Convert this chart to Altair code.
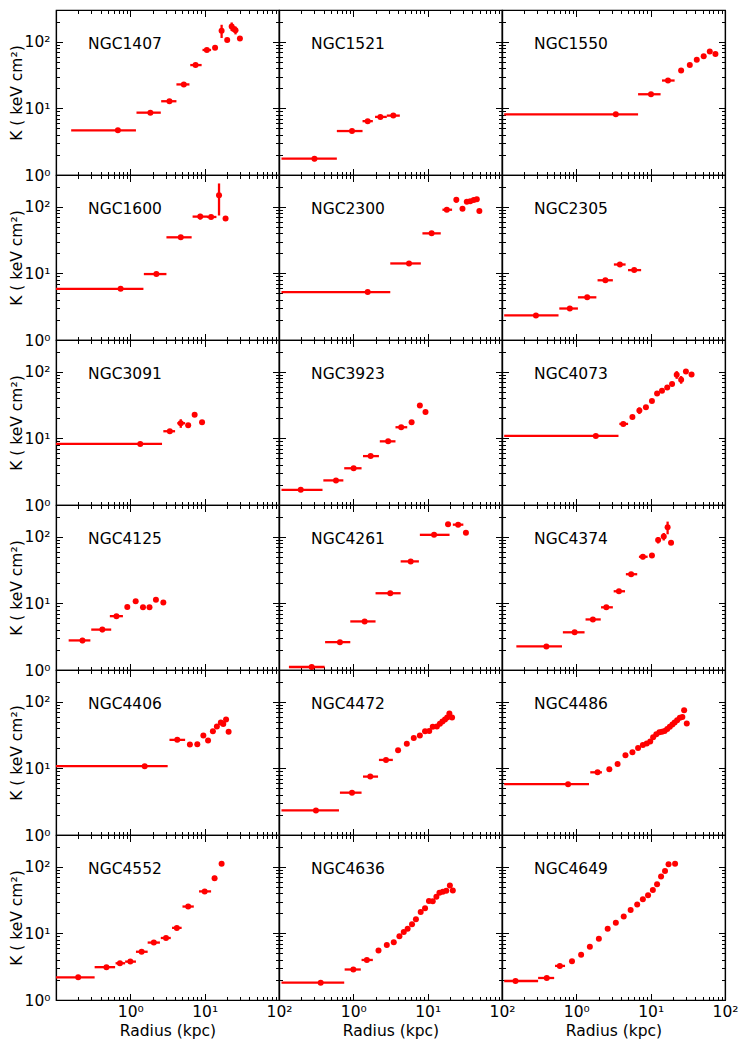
import altair as alt
import pandas as pd

FONT = "DejaVu Sans"
RED = "#ff0000"
PANEL_W = 223
PANEL_H = 165

NAMES = ["NGC1407", "NGC1521", "NGC1550",
         "NGC1600", "NGC2300", "NGC2305",
         "NGC3091", "NGC3923", "NGC4073",
         "NGC4125", "NGC4261", "NGC4374",
         "NGC4406", "NGC4472", "NGC4486",
         "NGC4552", "NGC4636", "NGC4649"]

# each row: (radius kpc, radius bin low, radius bin high, K keV cm^2, K error)
NGC1407 = [(0.68, 0.16, 1.19, 4.68, 0.2), (1.86, 1.21, 2.57, 8.63, 0.4), (3.36, 2.6, 4.17, 12.8, 0.6),
           (5.24, 4.17, 6.24, 22.9, 1.0), (7.54, 6.4, 9.1, 44.7, 2.0), (10.7, 9.35, 12.2, 75.3, 4),
           (13.8, 13.8, 13.8, 81.5, 4), (16.9, 16.9, 16.9, 147, 33), (20.1, 20.1, 20.1, 106, 5),
           (23.1, 23.1, 23.1, 170, 25), (24.6, 24.6, 24.6, 155, 10), (26.0, 26.0, 26.0, 149, 20),
           (29.8, 29.8, 29.8, 112, 6)]
NGC1521 = [(0.30, 0.108, 0.60, 1.76, 0.15), (0.96, 0.60, 1.33, 4.57, 0.2), (1.56, 1.33, 1.83, 6.43, 0.3),
           (2.31, 1.96, 2.82, 7.45, 0.5), (3.45, 2.82, 4.22, 7.79, 0.3)]
NGC1550 = [(3.4, 0.107, 6.77, 8.15, 0.2), (10.1, 6.77, 13.6, 16.3, 0.6), (17.1, 14.2, 21.0, 26.2, 1.0),
           (25.7, 25.7, 25.7, 36.9, 1.5), (33.6, 33.6, 33.6, 44.7, 2), (41.7, 41.7, 41.7, 53.6, 2),
           (51.7, 51.7, 51.7, 60.7, 3), (62.4, 62.4, 62.4, 71.2, 3), (74.3, 74.3, 74.3, 65.7, 3)]
NGC1600 = [(0.74, 0.09, 1.5, 5.87, 0.2), (2.24, 1.52, 3.06, 9.77, 0.4), (4.77, 3.06, 6.68, 34.8, 1.2),
           (8.72, 6.88, 11.0, 71.2, 7), (12.2, 10.7, 14.4, 70.3, 4), (15.6, 15.6, 15.6, 149, 75),
           (19.1, 19.1, 19.1, 66.5, 3)]
NGC2300 = [(1.56, 0.108, 3.14, 5.24, 0.2), (5.61, 3.14, 8.09, 14.1, 0.5), (11.3, 8.5, 15.0, 39.9, 1.5),
           (18.1, 15.8, 21.3, 90.3, 4), (24.3, 24.3, 24.3, 127, 12), (29.4, 29.4, 29.4, 93.4, 4),
           (33.6, 33.6, 33.6, 119, 5), (37.4, 37.4, 37.4, 121, 5), (41.7, 41.7, 41.7, 126, 5),
           (45.8, 45.8, 45.8, 130, 6), (49.6, 49.6, 49.6, 86.3, 4)]
NGC2305 = [(0.286, 0.107, 0.576, 2.34, 0.08), (0.817, 0.59, 1.05, 2.97, 0.15), (1.40, 1.05, 1.86, 4.37, 0.2),
           (2.46, 1.93, 3.1, 7.88, 0.5), (3.85, 3.2, 4.6, 13.6, 0.6), (6.0, 4.96, 7.44, 11.2, 0.5)]
NGC3091 = [(1.36, 0.09, 2.67, 8.25, 0.3), (3.4, 2.78, 4.0, 12.8, 0.6), (4.77, 4.28, 5.46, 16.9, 2.5),
           (6.0, 6.0, 6.0, 15.7, 1.2), (7.33, 7.33, 7.33, 22.6, 1.5), (9.22, 9.22, 9.22, 17.4, 1.2)]
NGC3923 = [(0.196, 0.108, 0.385, 1.69, 0.06), (0.584, 0.395, 0.734, 2.34, 0.1), (1.01, 0.754, 1.29, 3.56, 0.15),
           (1.71, 1.35, 2.21, 5.42, 0.2), (2.94, 2.27, 3.69, 9.03, 0.4), (4.4, 3.69, 5.31, 14.7, 0.7),
           (6.08, 6.08, 6.08, 17.4, 0.8), (7.85, 7.85, 7.85, 31.1, 2), (9.35, 9.35, 9.35, 24.8, 1.5)]
NGC4073 = [(1.83, 0.107, 3.69, 10.9, 0.4), (4.28, 3.79, 4.97, 16.5, 0.8), (5.68, 5.68, 5.68, 20.9, 1),
           (7.05, 7.05, 7.05, 26.2, 3), (8.63, 8.63, 8.63, 29.4, 2), (10.4, 10.4, 10.4, 36.4, 2),
           (12.2, 12.2, 12.2, 47.3, 3), (14.2, 14.2, 14.2, 51.8, 3), (16.7, 16.7, 16.7, 58.0, 3),
           (19.4, 19.4, 19.4, 65.7, 3), (22.4, 22.4, 22.4, 90.3, 12), (25.7, 25.7, 25.7, 76.2, 10),
           (29.8, 29.8, 29.8, 101, 5), (35.5, 35.5, 35.5, 91.3, 5)]
NGC4125 = [(0.227, 0.148, 0.29, 2.78, 0.25), (0.42, 0.298, 0.553, 4.04, 0.35), (0.65, 0.53, 0.795, 6.43, 0.3),
           (0.91, 0.91, 0.91, 8.83, 0.4), (1.18, 1.18, 1.18, 10.8, 0.6), (1.48, 1.48, 1.48, 8.73, 0.5),
           (1.81, 1.81, 1.81, 8.73, 0.5), (2.21, 2.21, 2.21, 11.3, 0.5), (2.78, 2.78, 2.78, 10.3, 0.5)]
NGC4261 = [(0.275, 0.136, 0.411, 1.11, 0.03), (0.66, 0.417, 0.91, 2.62, 0.1), (1.42, 0.91, 1.99, 5.36, 0.2),
           (3.14, 1.99, 4.33, 14.2, 0.5), (5.91, 4.33, 7.62, 42.7, 1.5), (12.2, 7.85, 19.7, 107, 4),
           (18.8, 17.5, 20.2, 154, 12), (25.7, 21.8, 30.2, 152, 8), (32.7, 32.7, 32.7, 115, 5)]
NGC4374 = [(0.395, 0.156, 0.641, 2.26, 0.06), (0.948, 0.659, 1.29, 3.68, 0.12), (1.67, 1.33, 2.13, 5.74, 0.2),
           (2.53, 2.15, 3.1, 8.73, 0.3), (3.74, 3.18, 4.52, 15.2, 0.6), (5.46, 4.64, 6.59, 27.4, 1),
           (7.85, 6.95, 9.1, 50.1, 4), (10.4, 10.4, 10.4, 52.4, 3), (12.6, 12.6, 12.6, 89.3, 10),
           (15.0, 15.0, 15.0, 101, 13), (16.9, 16.9, 16.9, 139, 30), (18.8, 18.8, 18.8, 81.5, 4)]
NGC4406 = [(1.56, 0.09, 3.18, 10.8, 0.3), (4.28, 3.36, 5.46, 26.8, 1), (6.33, 6.33, 6.33, 22.9, 1),
           (7.96, 7.96, 7.96, 23.1, 1), (9.6, 9.6, 9.6, 31.1, 1.5), (11.1, 11.1, 11.1, 26.2, 1.3),
           (12.9, 12.9, 12.9, 36.0, 1.5), (14.6, 14.6, 14.6, 42.7, 2), (16.5, 16.5, 16.5, 48.9, 2.5),
           (17.8, 17.8, 17.8, 46.2, 2), (19.4, 19.4, 19.4, 54.2, 2.5), (21.0, 21.0, 21.0, 35.6, 2)]
NGC4472 = [(0.314, 0.108, 0.641, 2.34, 0.06), (0.96, 0.66, 1.29, 4.32, 0.12), (1.69, 1.35, 2.15, 7.53, 0.2),
           (2.75, 2.21, 3.4, 13.4, 0.4), (4.0, 4.0, 4.0, 18.7, 0.8), (5.24, 5.24, 5.24, 23.4, 0.8),
           (6.5, 6.5, 6.5, 28.7, 1), (7.85, 7.85, 7.85, 31.1, 1), (9.22, 9.22, 9.22, 36.0, 1),
           (10.5, 10.5, 10.5, 36.4, 1), (11.7, 11.7, 11.7, 42.2, 1.5), (13.3, 13.3, 13.3, 42.7, 1.5),
           (14.6, 14.6, 14.6, 46.8, 1.5), (15.8, 15.8, 15.8, 50.6, 1.5), (17.1, 17.1, 17.1, 54.2, 2),
           (18.3, 18.3, 18.3, 58.0, 2), (19.6, 19.6, 19.6, 66.5, 3), (21.3, 21.3, 21.3, 58.0, 2)]
NGC4486 = [(0.774, 0.107, 1.48, 5.8, 0.15), (1.93, 1.54, 2.21, 8.73, 0.3), (2.78, 2.78, 2.78, 9.67, 0.3),
           (3.59, 3.59, 3.59, 11.6, 0.4), (4.58, 4.58, 4.58, 15.7, 0.5), (5.68, 5.68, 5.68, 17.4, 0.5),
           (6.77, 6.77, 6.77, 20.2, 0.6), (7.85, 7.85, 7.85, 22.4, 0.6), (8.85, 8.85, 8.85, 23.7, 0.7),
           (9.86, 9.86, 9.86, 25.3, 0.7), (10.8, 10.8, 10.8, 29.4, 0.8), (11.9, 11.9, 11.9, 32.5, 0.9),
           (13.1, 13.1, 13.1, 34.8, 1), (14.2, 14.2, 14.2, 35.6, 1), (15.4, 15.4, 15.4, 36.4, 1),
           (16.7, 16.7, 16.7, 39.0, 1), (18.1, 18.1, 18.1, 42.2, 1.2), (19.6, 19.6, 19.6, 45.7, 1.3),
           (21.0, 21.0, 21.0, 48.9, 1.4), (22.7, 22.7, 22.7, 53.0, 1.5), (24.7, 24.7, 24.7, 57.4, 1.6),
           (26.7, 26.7, 26.7, 59.3, 2), (28.2, 28.2, 28.2, 74.5, 3), (30.6, 30.6, 30.6, 47.3, 2)]
NGC4552 = [(0.199, 0.09, 0.331, 2.19, 0.06), (0.477, 0.331, 0.624, 3.11, 0.1), (0.724, 0.633, 0.851, 3.56, 0.15),
           (1.0, 0.851, 1.19, 3.77, 0.15), (1.42, 1.19, 1.71, 5.3, 0.2), (2.07, 1.71, 2.5, 7.28, 0.3),
           (3.02, 2.57, 3.5, 8.53, 0.4), (4.22, 3.64, 4.9, 12.1, 0.6), (6.0, 5.03, 7.14, 25.3, 1),
           (10.0, 8.4, 12.2, 42.7, 2), (13.6, 13.6, 13.6, 67.2, 6), (16.9, 16.9, 16.9, 111, 5)]
NGC4636 = [(0.364, 0.108, 0.754, 1.82, 0.05), (1.0, 0.764, 1.26, 2.87, 0.1), (1.52, 1.29, 1.83, 3.99, 0.15),
           (2.18, 2.18, 2.18, 5.54, 0.2), (2.82, 2.82, 2.82, 6.72, 0.2), (3.5, 3.5, 3.5, 7.36, 0.3),
           (4.17, 4.17, 4.17, 9.03, 0.3), (4.77, 4.77, 4.77, 10.5, 0.3), (5.38, 5.38, 5.38, 11.7, 0.4),
           (6.16, 6.16, 6.16, 13.7, 0.5), (6.95, 6.95, 6.95, 16.3, 0.5), (8.06, 8.06, 8.06, 20.9, 0.7),
           (9.22, 9.22, 9.22, 23.9, 0.8), (10.4, 10.4, 10.4, 30.7, 1), (11.7, 11.7, 11.7, 30.3, 1),
           (13.1, 13.1, 13.1, 35.6, 1.2), (14.4, 14.4, 14.4, 40.8, 1.3), (16.0, 16.0, 16.0, 42.2, 1.3),
           (17.8, 17.8, 17.8, 43.7, 1.5), (19.9, 19.9, 19.9, 52.4, 2), (21.8, 21.8, 21.8, 44.2, 2)]
NGC4649 = [(0.152, 0.107, 0.306, 1.93, 0.05), (0.4, 0.306, 0.503, 2.14, 0.08), (0.6, 0.517, 0.705, 3.25, 0.1),
           (0.874, 0.874, 0.874, 3.81, 0.1), (1.16, 1.16, 1.16, 4.78, 0.15), (1.52, 1.52, 1.52, 6.28, 0.2),
           (2.01, 2.01, 2.01, 8.34, 0.25), (2.64, 2.64, 2.64, 11.7, 0.3), (3.4, 3.4, 3.4, 14.5, 0.4),
           (4.34, 4.34, 4.34, 18.0, 0.5), (5.38, 5.38, 5.38, 22.4, 0.6), (6.59, 6.59, 6.59, 27.1, 0.8),
           (7.85, 7.85, 7.85, 32.5, 1), (9.22, 9.22, 9.22, 37.3, 1), (10.7, 10.7, 10.7, 44.7, 1.2),
           (12.2, 12.2, 12.2, 54.8, 1.5), (13.8, 13.8, 13.8, 71.2, 2), (15.6, 15.6, 15.6, 86.3, 3),
           (17.4, 17.4, 17.4, 109, 4), (21.3, 21.3, 21.3, 111, 4)]

GALAXIES = [NGC1407, NGC1521, NGC1550, NGC1600, NGC2300, NGC2305,
            NGC3091, NGC3923, NGC4073, NGC4125, NGC4261, NGC4374,
            NGC4406, NGC4472, NGC4486, NGC4552, NGC4636, NGC4649]

X_DOMAIN = [0.1, 100]
Y_DOMAIN = [1, 300]
X_TICKS = [0.1, 0.2, 0.3, 0.4, 0.5, 0.6, 0.7, 0.8, 0.9,
           1, 2, 3, 4, 5, 6, 7, 8, 9,
           10, 20, 30, 40, 50, 60, 70, 80, 90, 100]
Y_TICKS = [1, 2, 3, 4, 5, 6, 7, 8, 9,
           10, 20, 30, 40, 50, 60, 70, 80, 90,
           100, 200, 300]
LABEL_R = 0.27
LABEL_K = 77

X_TITLE = "Radius (kpc)"
Y_TITLE = "K ( keV cm²)"

MAJOR = "abs(log(datum.value)/LN10 - round(log(datum.value)/LN10)) < 0.001"
LABELED = "datum.value == 1 || datum.value == 10 || datum.value == 100"
LABEL_EXPR = ("datum.value == 1 ? '10⁰' : datum.value == 10 ? '10¹' : "
              "datum.value == 100 ? '10²' : ''")


def build(neg):
    s = -1 if neg else 1
    tick_size = {"condition": {"test": MAJOR, "value": s * 6.5}, "value": s * 3.5}
    label_size = {"condition": {"test": LABELED, "value": 15.5}, "value": 0.1}

    def axis(orient, values, labels, title):
        if orient in ("left", "right"):
            pad = 12.5 if neg else 5.5
            tpad = 0
        else:
            pad = 10.5 if neg else 3.5
            tpad = 4
        kw = dict(orient=orient, values=values, labels=labels, tickSize=tick_size,
                  tickColor="black", tickWidth=1, domainColor="black", domainWidth=1.2,
                  grid=False, labelExpr=LABEL_EXPR, labelPadding=pad, labelFlush=False,
                  labelOverlap=False, labelFont=FONT, labelFontSize=label_size, labelColor="black",
                  titleFont=FONT, titleFontSize=15.5, titleFontWeight="normal",
                  titleColor="black", titlePadding=tpad, minExtent=0)
        if not labels:
            kw["maxExtent"] = 0
        kw["title"] = title if title else None
        return alt.Axis(**kw)

    panels = []
    for i, (name, rows) in enumerate(zip(NAMES, GALAXIES)):
        r, c = divmod(i, 3)
        df = pd.DataFrame(rows, columns=["r", "rlo", "rhi", "k", "kerr"])
        df["klo"] = df["k"] - df["kerr"]
        df["khi"] = df["k"] + df["kerr"]
        xs = alt.Scale(type="log", domain=X_DOMAIN, nice=False)
        ys = alt.Scale(type="log", domain=Y_DOMAIN, nice=False)
        xa = axis("bottom", X_TICKS, r == 5, X_TITLE if r == 5 else None)
        ya = axis("left", Y_TICKS, c == 0, Y_TITLE if c == 0 else None)
        xa2 = axis("top", X_TICKS, False, None)
        ya2 = axis("right", Y_TICKS, False, None)

        base = alt.Chart(df)
        xbar = base.mark_rule(color=RED, strokeWidth=2.3, clip=True).encode(
            x=alt.X("rlo:Q", scale=xs, axis=xa), x2="rhi:Q",
            y=alt.Y("k:Q", scale=ys, axis=ya))
        ybar = base.mark_rule(color=RED, strokeWidth=2.3, clip=True).encode(
            x=alt.X("r:Q", scale=xs, axis=xa),
            y=alt.Y("klo:Q", scale=ys, axis=ya), y2="khi:Q")
        pts = base.mark_circle(color=RED, opacity=1, size=36, clip=True).encode(
            x=alt.X("r:Q", scale=xs, axis=xa),
            y=alt.Y("k:Q", scale=ys, axis=ya))
        lab = alt.Chart(pd.DataFrame({"t": [name], "x": [LABEL_R], "y": [LABEL_K]})).mark_text(
            align="left", baseline="alphabetic", font=FONT, fontSize=15.5, color="black").encode(
            x=alt.X("x:Q", scale=xs, axis=xa),
            y=alt.Y("y:Q", scale=ys, axis=ya), text="t:N")
        main = alt.layer(xbar, ybar, pts, lab)
        frame = base.mark_point(opacity=0, size=1).encode(
            x=alt.X("r:Q", scale=xs, axis=xa2),
            y=alt.Y("k:Q", scale=ys, axis=ya2))
        panels.append(alt.layer(main, frame).resolve_scale(x="independent", y="independent")
                      .properties(width=PANEL_W, height=PANEL_H))

    ch = alt.concat(*panels, columns=3, spacing=0, bounds="flush").properties(
        padding={"left": 0, "top": 0, "right": 0, "bottom": 0},
        background="white",
    ).configure_view(stroke="black", strokeWidth=1.2)
    return ch


try:
    chart = build(True)
    chart.to_dict()
except Exception:
    chart = build(False)

chart.save("out.html", embed_options={"renderer": "svg", "actions": False})
